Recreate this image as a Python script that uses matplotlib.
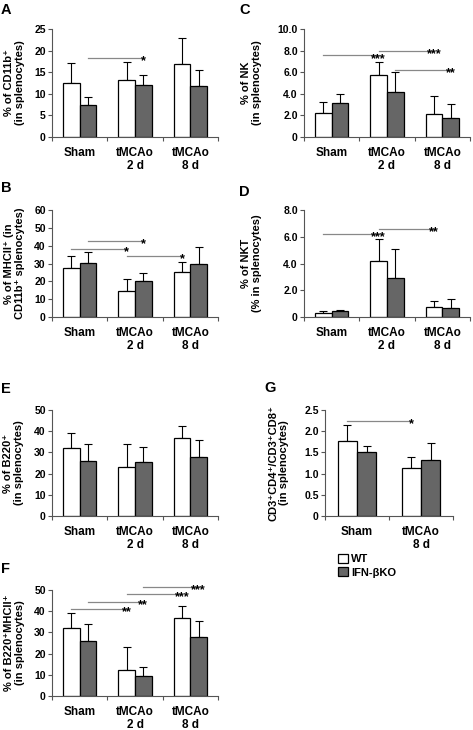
import numpy as np
from matplotlib import pyplot
from matplotlib.ticker import FixedLocator

pyplot.rcParams['font.family'] = ['Liberation Sans', 'DejaVu Sans']
pyplot.rcParams['font.weight'] = 'bold'
pyplot.rcParams['axes.labelweight'] = 'bold'

W, H = 473, 730

groups3 = ['Sham', 'tMCAo\n2 d', 'tMCAo\n8 d']
groups2 = ['Sham', 'tMCAo\n8 d']

# A - CD11b+
a_wt = [12.6, 13.3, 16.9]
a_wt_sd = [4.5, 4.0, 6.1]
a_ko = [7.4, 12.0, 11.8]
a_ko_sd = [1.8, 2.4, 3.7]
a_sig = [(0, 1, 1, 1, 18.2, '*')]

# B - MHCII+ in CD11b+
b_wt = [27.6, 14.6, 25.3]
b_wt_sd = [6.5, 6.6, 5.5]
b_ko = [30.2, 20.1, 29.6]
b_ko_sd = [6.0, 4.7, 9.4]
b_sig = [(0, 1, 1, 1, 42.7, '*'), (0, 0, 1, 0, 38.1, '*'), (1, 0, 2, 0, 34.1, '*')]

# C - NK
c_wt = [2.2, 5.7, 2.1]
c_wt_sd = [1.0, 1.25, 1.7]
c_ko = [3.15, 4.2, 1.75]
c_ko_sd = [0.85, 1.8, 1.3]
c_sig = [(0, 0, 1, 0, 7.55, '***'), (1, 0, 2, 0, 7.96, '***'), (1, 1, 2, 1, 6.2, '**')]

# D - NKT
d_wt = [0.33, 4.18, 0.75]
d_wt_sd = [0.12, 1.62, 0.47]
d_ko = [0.45, 2.9, 0.7]
d_ko_sd = [0.1, 2.18, 0.62]
d_sig = [(0, 0, 1, 0, 6.18, '***'), (1, 0, 2, 0, 6.58, '**')]

# E - B220+
e_wt = [31.9, 23.0, 36.9]
e_wt_sd = [7.4, 11.0, 5.7]
e_ko = [26.1, 25.3, 28.0]
e_ko_sd = [7.7, 7.1, 7.8]

# F - B220+MHCII+
f_wt = [31.9, 12.3, 36.6]
f_wt_sd = [7.4, 10.7, 5.9]
f_ko = [26.1, 9.6, 28.0]
f_ko_sd = [7.7, 4.2, 7.5]
f_sig = [(0, 0, 1, 0, 40.9, '**'), (0, 1, 1, 1, 44.5, '**'),
         (1, 0, 2, 0, 48.0, '***'), (1, 1, 2, 1, 51.6, '***')]

# G - CD4/CD8 ratio
g_wt = [1.76, 1.13]
g_wt_sd = [0.39, 0.26]
g_ko = [1.5, 1.33]
g_ko_sd = [0.15, 0.4]
g_sig = [(0, 0, 1, 0, 2.24, '*')]

BW = 0.3
AX_COL = '#555555'
KO_COL = '#666666'


def make_ax(fig, x0, y_top, w, h):
    # pixel box -> figure fraction
    return fig.add_axes([x0 / W, 1 - (y_top + h) / H, w / W, h / H])


def panel(ax, labels, wt, wt_sd, ko, ko_sd, yticks, yticklabels, ylabel, label_px, sig=()):
    n = len(labels)
    x = np.arange(n)
    b1 = ax.bar(x - BW / 2, wt, BW, color='white', edgecolor='black', linewidth=0.9,
                label='WT', zorder=2)
    b2 = ax.bar(x + BW / 2, ko, BW, color=KO_COL, edgecolor='black', linewidth=0.9,
                label='IFN-\u03b2KO', zorder=2)
    ax.errorbar(x - BW / 2, wt, yerr=[np.zeros(n), wt_sd], fmt='none', ecolor='black',
                elinewidth=0.8, capsize=3, capthick=0.8, zorder=1)
    ax.errorbar(x + BW / 2, ko, yerr=[np.zeros(n), ko_sd], fmt='none', ecolor='black',
                elinewidth=0.8, capsize=3, capthick=0.8, zorder=1)

    ax.set_xlim(-0.5, n - 0.5)
    ax.set_ylim(yticks[0], yticks[-1])
    ax.set_yticks(yticks)
    ax.set_yticklabels(yticklabels, fontsize=7.5)
    ax.set_xticks(x)
    ax.set_xticklabels(labels, fontsize=8.5, linespacing=1.15)
    ax.xaxis.set_minor_locator(FixedLocator(np.arange(n + 1) - 0.5))
    ax.tick_params(axis='x', which='major', length=0, pad=7)
    ax.tick_params(axis='x', which='minor', length=3, color=AX_COL, width=0.8)
    ax.tick_params(axis='y', length=3, color=AX_COL, width=0.8, pad=1.5)
    for s in ['top', 'right']:
        ax.spines[s].set_visible(False)
    for s in ['left', 'bottom']:
        ax.spines[s].set_color(AX_COL)
        ax.spines[s].set_linewidth(0.8)

    ax.set_ylabel(ylabel, fontsize=8, linespacing=1.1)
    w_px = ax.get_position().width * W
    ax.yaxis.set_label_coords(label_px / w_px, 0.5)

    # significance lines, from one bar centre to another, stars at the end
    for g1, s1, g2, s2, yv, stars in sig:
        xa = g1 + (s1 - 0.5) * BW
        xb = g2 + (s2 - 0.5) * BW
        ax.plot([xa, xb], [yv, yv], color='#888888', lw=0.9, clip_on=False, zorder=3)
        ax.annotate(stars, (xb, yv), xytext=(0, -4.5), textcoords='offset points',
                    ha='center', va='baseline', fontsize=9, fontweight='bold',
                    annotation_clip=False, zorder=4)
    return b1, b2


fig = pyplot.figure(figsize=(W / 100, H / 100), dpi=100)

axA = make_ax(fig, 52, 29, 166, 108)
panel(axA, groups3, a_wt, a_wt_sd, a_ko, a_ko_sd, [0, 5, 10, 15, 20, 25],
      ['0', '5', '10', '15', '20', '25'], '% of CD11b\u207a\n(in splenocytes)', -27, a_sig)

axB = make_ax(fig, 52, 210, 166, 107)
panel(axB, groups3, b_wt, b_wt_sd, b_ko, b_ko_sd, [0, 10, 20, 30, 40, 50, 60],
      ['0', '10', '20', '30', '40', '50', '60'],
      '% of MHCII\u207a (in\nCD11b\u207a splenocytes)', -27, b_sig)

axC = make_ax(fig, 304, 29, 166, 108)
panel(axC, groups3, c_wt, c_wt_sd, c_ko, c_ko_sd, [0, 2, 4, 6, 8, 10],
      ['0', '2.0', '4.0', '6.0', '8.0', '10.0'], '% of NK\n(in splenocytes)', -42, c_sig)

axD = make_ax(fig, 304, 210, 166, 107)
panel(axD, groups3, d_wt, d_wt_sd, d_ko, d_ko_sd, [0, 2, 4, 6, 8],
      ['0', '2.0', '4.0', '6.0', '8.0'], '% of NKT\n(% in splenocytes)', -42, d_sig)

axE = make_ax(fig, 52, 410, 166, 106)
panel(axE, groups3, e_wt, e_wt_sd, e_ko, e_ko_sd, [0, 10, 20, 30, 40, 50],
      ['0', '10', '20', '30', '40', '50'], '% of B220\u207a\n(in splenocytes)', -28)

axF = make_ax(fig, 52, 590, 166, 106)
panel(axF, groups3, f_wt, f_wt_sd, f_ko, f_ko_sd, [0, 10, 20, 30, 40, 50],
      ['0', '10', '20', '30', '40', '50'], '% of B220\u207aMHCII\u207a\n(in splenocytes)', -27, f_sig)

axG = make_ax(fig, 325, 410, 128, 106)
hw, hk = panel(axG, groups2, g_wt, g_wt_sd, g_ko, g_ko_sd, [0, 0.5, 1.0, 1.5, 2.0, 2.5],
               ['0', '0.5', '1.0', '1.5', '2.0', '2.5'],
               'CD3\u207aCD4\u207a/CD3\u207aCD8\u207a\n(in splenocytes)', -36, g_sig)

# panel letters
for letter, xp, yp in [('A', 1, 3), ('B', 1, 181), ('C', 239, 3), ('D', 239, 185),
                       ('E', 1, 382), ('G', 264, 381), ('F', 1, 562)]:
    fig.text(xp / W, 1 - yp / H, letter, fontsize=10.5, fontweight='bold', va='top', ha='left')

fig.legend([hw, hk], ['WT', 'IFN-\u03b2KO'], loc='upper left',
           bbox_to_anchor=(338 / W, 1 - 554 / H), frameon=False, fontsize=8,
           handlelength=0.9, handleheight=0.9, handletextpad=0.3, labelspacing=0.25,
           borderpad=0, borderaxespad=0)

fig.savefig('out.png', dpi=100)
pyplot.close()
